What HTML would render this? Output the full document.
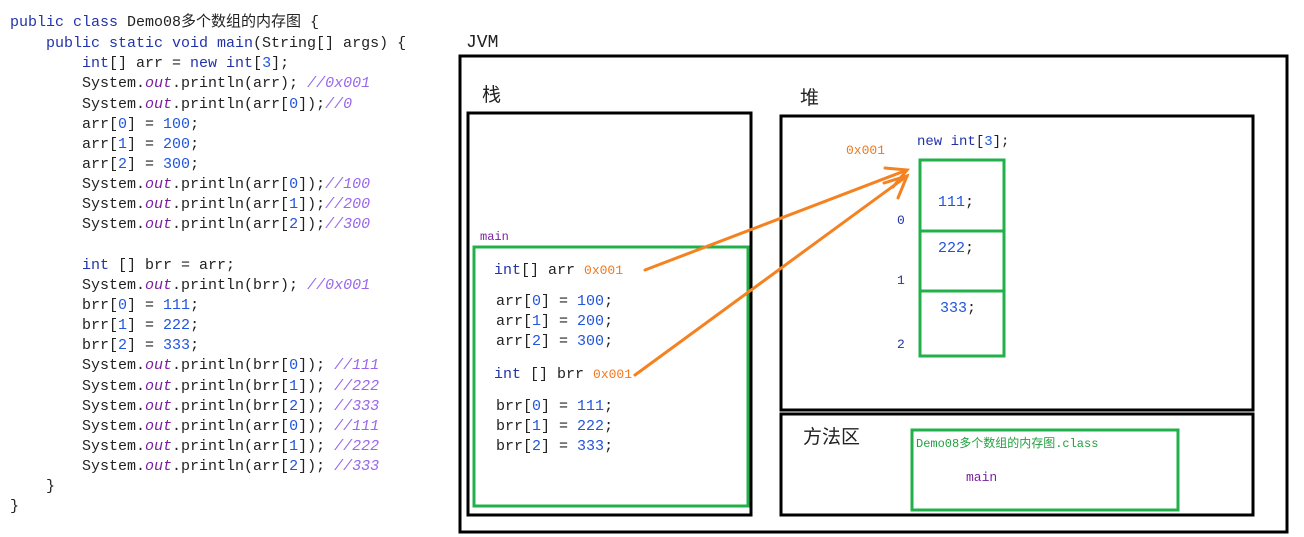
<!DOCTYPE html>
<html><head><meta charset="utf-8"><style>
html,body{margin:0;padding:0;background:#fff;}
svg{display:block;}
text{font-family:"Liberation Mono","Noto Sans CJK SC",monospace;font-size:15px;fill:#222;}
.k{fill:#2233aa;}
.n{fill:#2255dd;}
.o{fill:#7a1fa0;font-style:italic;}
.c{fill:#9966ee;font-style:italic;}
.or{fill:#f07820;}
</style></head><body>
<svg width="1304" height="537" viewBox="0 0 1304 537" xmlns="http://www.w3.org/2000/svg">
<g>
<text x="10" y="26"><tspan class="k">public class</tspan> Demo08多个数组的内存图 {</text>
<text x="46" y="47"><tspan class="k">public static void main</tspan>(String[] args) {</text>
<text x="82" y="67"><tspan class="k">int</tspan>[] arr = <tspan class="k">new int</tspan>[<tspan class="n">3</tspan>];</text>
<text x="82" y="87">System.<tspan class="o">out</tspan>.println(arr);   <tspan class="c">//0x001</tspan></text>
<text x="82" y="108">System.<tspan class="o">out</tspan>.println(arr[<tspan class="n">0</tspan>]);<tspan class="c">//0</tspan></text>
<text x="82" y="128">arr[<tspan class="n">0</tspan>] = <tspan class="n">100</tspan>;</text>
<text x="82" y="148">arr[<tspan class="n">1</tspan>] = <tspan class="n">200</tspan>;</text>
<text x="82" y="168">arr[<tspan class="n">2</tspan>] = <tspan class="n">300</tspan>;</text>
<text x="82" y="188">System.<tspan class="o">out</tspan>.println(arr[<tspan class="n">0</tspan>]);<tspan class="c">//100</tspan></text>
<text x="82" y="208">System.<tspan class="o">out</tspan>.println(arr[<tspan class="n">1</tspan>]);<tspan class="c">//200</tspan></text>
<text x="82" y="228">System.<tspan class="o">out</tspan>.println(arr[<tspan class="n">2</tspan>]);<tspan class="c">//300</tspan></text>
<text x="82" y="269"><tspan class="k">int</tspan> [] brr = arr;</text>
<text x="82" y="289">System.<tspan class="o">out</tspan>.println(brr);   <tspan class="c">//0x001</tspan></text>
<text x="82" y="309">brr[<tspan class="n">0</tspan>] = <tspan class="n">111</tspan>;</text>
<text x="82" y="329">brr[<tspan class="n">1</tspan>] = <tspan class="n">222</tspan>;</text>
<text x="82" y="349">brr[<tspan class="n">2</tspan>] = <tspan class="n">333</tspan>;</text>
<text x="82" y="369">System.<tspan class="o">out</tspan>.println(brr[<tspan class="n">0</tspan>]); <tspan class="c">//111</tspan></text>
<text x="82" y="390">System.<tspan class="o">out</tspan>.println(brr[<tspan class="n">1</tspan>]); <tspan class="c">//222</tspan></text>
<text x="82" y="410">System.<tspan class="o">out</tspan>.println(brr[<tspan class="n">2</tspan>]); <tspan class="c">//333</tspan></text>
<text x="82" y="430">System.<tspan class="o">out</tspan>.println(arr[<tspan class="n">0</tspan>]); <tspan class="c">//111</tspan></text>
<text x="82" y="450">System.<tspan class="o">out</tspan>.println(arr[<tspan class="n">1</tspan>]); <tspan class="c">//222</tspan></text>
<text x="82" y="470">System.<tspan class="o">out</tspan>.println(arr[<tspan class="n">2</tspan>]); <tspan class="c">//333</tspan></text>
<text x="46" y="490">}</text>
<text x="10" y="510">}</text>
</g>

<text x="466" y="47" style="font-size:18px;">JVM</text>
<rect x="460" y="56" width="827" height="476" fill="none" stroke="#000" stroke-width="3"/>

<text x="482" y="101" style="font-size:19px;font-family:'Noto Sans CJK SC',sans-serif;">栈</text>
<rect x="468" y="113" width="283" height="402" fill="none" stroke="#000" stroke-width="3"/>

<text x="480" y="240" class="o" style="font-style:normal;font-size:12px;">main</text>
<rect x="474" y="247" width="274" height="259" fill="none" stroke="#22b04a" stroke-width="3"/>

<text x="494" y="274"><tspan class="k">int</tspan>[] arr  <tspan class="or" style="font-size:13px;">0x001</tspan></text>
<text x="496" y="305">arr[<tspan class="n">0</tspan>] = <tspan class="n">100</tspan>;</text>
<text x="496" y="325">arr[<tspan class="n">1</tspan>] = <tspan class="n">200</tspan>;</text>
<text x="496" y="345">arr[<tspan class="n">2</tspan>] = <tspan class="n">300</tspan>;</text>
<text x="494" y="378"><tspan class="k">int</tspan> [] brr <tspan class="or" style="font-size:13px;">0x001</tspan></text>
<text x="496" y="410">brr[<tspan class="n">0</tspan>] = <tspan class="n">111</tspan>;</text>
<text x="496" y="430">brr[<tspan class="n">1</tspan>] = <tspan class="n">222</tspan>;</text>
<text x="496" y="450">brr[<tspan class="n">2</tspan>] = <tspan class="n">333</tspan>;</text>

<text x="800" y="104" style="font-size:19px;font-family:'Noto Sans CJK SC',sans-serif;">堆</text>
<rect x="781" y="116" width="472" height="294" fill="none" stroke="#000" stroke-width="3"/>
<text x="846" y="154" class="or" style="font-size:13px;">0x001</text>
<text x="917" y="145" style="font-size:14px;"><tspan class="k">new int</tspan>[<tspan class="n">3</tspan>];</text>
<rect x="920" y="160" width="84" height="196" fill="none" stroke="#22b04a" stroke-width="3"/>
<line x1="920" y1="231" x2="1004" y2="231" stroke="#22b04a" stroke-width="3"/>
<line x1="920" y1="291" x2="1004" y2="291" stroke="#22b04a" stroke-width="3"/>
<text x="897" y="224" class="n" style="font-size:13px;fill:#2233aa;">0</text>
<text x="897" y="284" class="n" style="font-size:13px;fill:#2233aa;">1</text>
<text x="897" y="348" class="n" style="font-size:13px;fill:#2233aa;">2</text>
<text x="938" y="206"><tspan class="n">111</tspan>;</text>
<text x="938" y="252"><tspan class="n">222</tspan>;</text>
<text x="940" y="312"><tspan class="n">333</tspan>;</text>

<rect x="781" y="414" width="472" height="101" fill="none" stroke="#000" stroke-width="3"/>
<text x="803" y="443" style="font-size:19px;font-family:'Noto Sans CJK SC',sans-serif;">方法区</text>
<rect x="912" y="430" width="266" height="80" fill="none" stroke="#22b04a" stroke-width="3"/>
<text x="916" y="447" style="font-size:12px;fill:#22a040;">Demo08多个数组的内存图.class</text>
<text x="966" y="481" class="o" style="font-style:normal;font-size:13px;">main</text>

<g stroke="#f58220" stroke-width="3" fill="none" stroke-linecap="round">
<line x1="645" y1="270" x2="907" y2="170"/>
<polyline points="885,168 907,170 893,187"/>
<line x1="635" y1="375" x2="907" y2="176"/>
<polyline points="884,183 907,176 898,198"/>
</g>
</svg>
</body></html>
